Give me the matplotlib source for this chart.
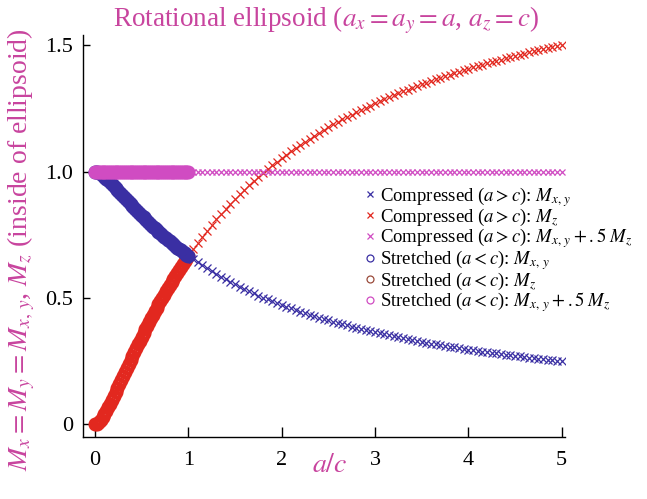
import matplotlib
matplotlib.use("Agg")
import matplotlib.pyplot as plt
from matplotlib.lines import Line2D

plt.rcParams["font.family"] = ["Liberation Serif", "DejaVu Serif"]
plt.rcParams["mathtext.fontset"] = "stix"

# Compressed spheroid (a > c): sampled ratio a/c
ratio_compressed = [
    1.00, 1.05, 1.10, 1.15, 1.20, 1.25, 1.30, 1.35, 1.40, 1.45,
    1.50, 1.55, 1.60, 1.65, 1.70, 1.75, 1.80, 1.85, 1.90, 1.95,
    2.00, 2.05, 2.10, 2.15, 2.20, 2.25, 2.30, 2.35, 2.40, 2.45,
    2.50, 2.55, 2.60, 2.65, 2.70, 2.75, 2.80, 2.85, 2.90, 2.95,
    3.00, 3.05, 3.10, 3.15, 3.20, 3.25, 3.30, 3.35, 3.40, 3.45,
    3.50, 3.55, 3.60, 3.65, 3.70, 3.75, 3.80, 3.85, 3.90, 3.95,
    4.00, 4.05, 4.10, 4.15, 4.20, 4.25, 4.30, 4.35, 4.40, 4.45,
    4.50, 4.55, 4.60, 4.65, 4.70, 4.75, 4.80, 4.85, 4.90, 4.95,
    5.00,
]
mz_compressed = [
    0.667, 0.693, 0.718, 0.743, 0.766, 0.789, 0.811, 0.832, 0.853, 0.873,
    0.892, 0.910, 0.928, 0.946, 0.963, 0.979, 0.995, 1.011, 1.026, 1.040,
    1.054, 1.068, 1.082, 1.095, 1.107, 1.119, 1.131, 1.143, 1.154, 1.166,
    1.176, 1.187, 1.197, 1.207, 1.217, 1.226, 1.236, 1.245, 1.254, 1.262,
    1.271, 1.279, 1.287, 1.295, 1.303, 1.310, 1.318, 1.325, 1.332, 1.339,
    1.346, 1.353, 1.359, 1.366, 1.372, 1.378, 1.384, 1.390, 1.396, 1.402,
    1.407, 1.413, 1.418, 1.423, 1.429, 1.434, 1.439, 1.444, 1.449, 1.453,
    1.458, 1.463, 1.467, 1.472, 1.476, 1.480, 1.485, 1.489, 1.493, 1.497,
    1.501,
]
mxy_compressed = [
    0.667, 0.654, 0.641, 0.629, 0.617, 0.606, 0.595, 0.584, 0.574, 0.564,
    0.554, 0.545, 0.536, 0.527, 0.519, 0.510, 0.502, 0.495, 0.487, 0.480,
    0.473, 0.466, 0.459, 0.453, 0.446, 0.440, 0.434, 0.428, 0.423, 0.417,
    0.412, 0.407, 0.401, 0.396, 0.392, 0.387, 0.382, 0.378, 0.373, 0.369,
    0.365, 0.360, 0.356, 0.352, 0.349, 0.345, 0.341, 0.337, 0.334, 0.330,
    0.327, 0.324, 0.320, 0.317, 0.314, 0.311, 0.308, 0.305, 0.302, 0.299,
    0.296, 0.294, 0.291, 0.288, 0.286, 0.283, 0.281, 0.278, 0.276, 0.273,
    0.271, 0.269, 0.266, 0.264, 0.262, 0.260, 0.258, 0.256, 0.254, 0.252,
    0.250,
]

# Stretched spheroid (a < c): sampled ratio a/c
ratio_stretched = [
    0.00, 0.02, 0.04, 0.06, 0.08, 0.10, 0.12, 0.14, 0.16, 0.18,
    0.20, 0.22, 0.24, 0.26, 0.28, 0.30, 0.32, 0.34, 0.36, 0.38,
    0.40, 0.42, 0.44, 0.46, 0.48, 0.50, 0.52, 0.54, 0.56, 0.58,
    0.60, 0.62, 0.64, 0.66, 0.68, 0.70, 0.72, 0.74, 0.76, 0.78,
    0.80, 0.82, 0.84, 0.86, 0.88, 0.90, 0.92, 0.94, 0.96, 0.98,
    1.00,
]
mz_stretched = [
    0.000, 0.003, 0.009, 0.018, 0.029, 0.041, 0.053, 0.067, 0.082, 0.096,
    0.112, 0.127, 0.143, 0.159, 0.175, 0.191, 0.207, 0.223, 0.239, 0.254,
    0.270, 0.286, 0.301, 0.317, 0.332, 0.347, 0.362, 0.377, 0.391, 0.406,
    0.420, 0.434, 0.448, 0.461, 0.475, 0.488, 0.501, 0.514, 0.527, 0.540,
    0.552, 0.564, 0.576, 0.588, 0.600, 0.611, 0.623, 0.634, 0.645, 0.656,
    0.667,
]
mxy_stretched = [
    1.000, 0.999, 0.995, 0.991, 0.986, 0.980, 0.973, 0.966, 0.959, 0.952,
    0.944, 0.936, 0.929, 0.921, 0.913, 0.905, 0.897, 0.889, 0.881, 0.873,
    0.865, 0.857, 0.849, 0.842, 0.834, 0.826, 0.819, 0.812, 0.804, 0.797,
    0.790, 0.783, 0.776, 0.769, 0.763, 0.756, 0.749, 0.743, 0.736, 0.730,
    0.724, 0.718, 0.712, 0.706, 0.700, 0.694, 0.689, 0.683, 0.677, 0.672,
    0.667,
]

sum_compressed = [m + 0.5 * z for m, z in zip(mxy_compressed, mz_compressed)]
sum_stretched = [m + 0.5 * z for m, z in zip(mxy_stretched, mz_stretched)]

x_ticks = [0, 1, 2, 3, 4, 5]
y_ticks = [0, 0.5, 1.0, 1.5]
y_tick_labels = ["0", "0.5", "1.0", "1.5"]

BLUE = "#3a2fa3"
RED = "#e2281f"
MAGENTA = "#d04cc2"
PINK_TEXT = "#c8449e"

fig = plt.figure(figsize=(6.47, 4.99), dpi=100)
ax = fig.add_axes([0.1283, 0.1242, 0.745, 0.8056])

# stretched (a < c): dense circles that merge into a band
ax.plot(ratio_stretched, mz_stretched, "o", ls="none", ms=7.5, mfc="none",
        mec=RED, mew=2.6, zorder=3)
ax.plot(ratio_stretched, mxy_stretched, "o", ls="none", ms=7.5, mfc="none",
        mec=BLUE, mew=2.6, zorder=4)
ax.plot(ratio_stretched, sum_stretched, "o", ls="none", ms=7.5, mfc="none",
        mec=MAGENTA, mew=2.6, zorder=5)

# compressed (a > c): crosses
ax.plot(ratio_compressed, mxy_compressed, "x", ls="none", ms=5.5, mew=0.9,
        color=BLUE, zorder=3)
ax.plot(ratio_compressed, mz_compressed, "x", ls="none", ms=5.5, mew=0.9,
        color=RED, zorder=3)
ax.plot(ratio_compressed, sum_compressed, "x", ls="none", ms=5, mew=0.9,
        color=MAGENTA, zorder=3)

ax.set_xlim(-0.129, 5.037)
ax.set_ylim(-0.050, 1.541)
ax.set_xticks(x_ticks)
ax.set_xticklabels([str(t) for t in x_ticks])
ax.set_yticks(y_ticks)
ax.set_yticklabels(y_tick_labels)

for side in ("top", "right"):
    ax.spines[side].set_visible(False)
for side in ("left", "bottom"):
    ax.spines[side].set_linewidth(1.0)

ax.tick_params(axis="x", direction="in", length=7, width=1.0,
               labelsize=16, pad=10)
ax.tick_params(axis="y", direction="in", length=5, width=1.0,
               labelsize=16, pad=7)

fig.text(0.504, 0.947, r"Rotational ellipsoid ($a_x = a_y = a$, $a_z = c$)",
         color=PINK_TEXT, fontsize=19.5, ha="center", va="baseline")
ax.set_xlabel(r"$a/c$", color=PINK_TEXT, fontsize=20)
ax.xaxis.set_label_coords(0.512, -0.07)
ax.xaxis.label.set_verticalalignment("center")
ax.set_ylabel(r"$M_x = M_y = M_{x,\,y}$, $M_z$ (inside of ellipsoid)",
              color=PINK_TEXT, fontsize=20)
ax.yaxis.set_label_coords(-0.127, 0.465)
ax.yaxis.label.set_verticalalignment("center")

labels = [
    r"Compressed ($a > c$): $M_{x,\,y}$",
    r"Compressed ($a > c$): $M_z$",
    r"Compressed ($a > c$): $M_{x,\,y} + .5\;M_z$",
    r"Stretched ($a < c$): $M_{x,\,y}$",
    r"Stretched ($a < c$): $M_z$",
    r"Stretched ($a < c$): $M_{x,\,y} + .5\;M_z$",
]
handles = [
    Line2D([], [], ls="none", marker="x", ms=5, mew=0.9, color=BLUE),
    Line2D([], [], ls="none", marker="x", ms=5, mew=0.9, color=RED),
    Line2D([], [], ls="none", marker="x", ms=5, mew=0.9, color=MAGENTA),
    Line2D([], [], ls="none", marker="o", ms=5, mfc="none", mew=0.9, mec=BLUE),
    Line2D([], [], ls="none", marker="o", ms=5, mfc="none", mew=0.9, mec="#9a4a3a"),
    Line2D([], [], ls="none", marker="o", ms=5, mfc="none", mew=0.9, mec=MAGENTA),
]
fig.legend(handles, labels, loc="upper left", bbox_to_anchor=(0.563, 0.630),
           frameon=False, fontsize=13.5, handlelength=0.6, handletextpad=0.25,
           labelspacing=-0.1, borderpad=0.0, borderaxespad=0.0)

fig.savefig("out.png", dpi=100)
